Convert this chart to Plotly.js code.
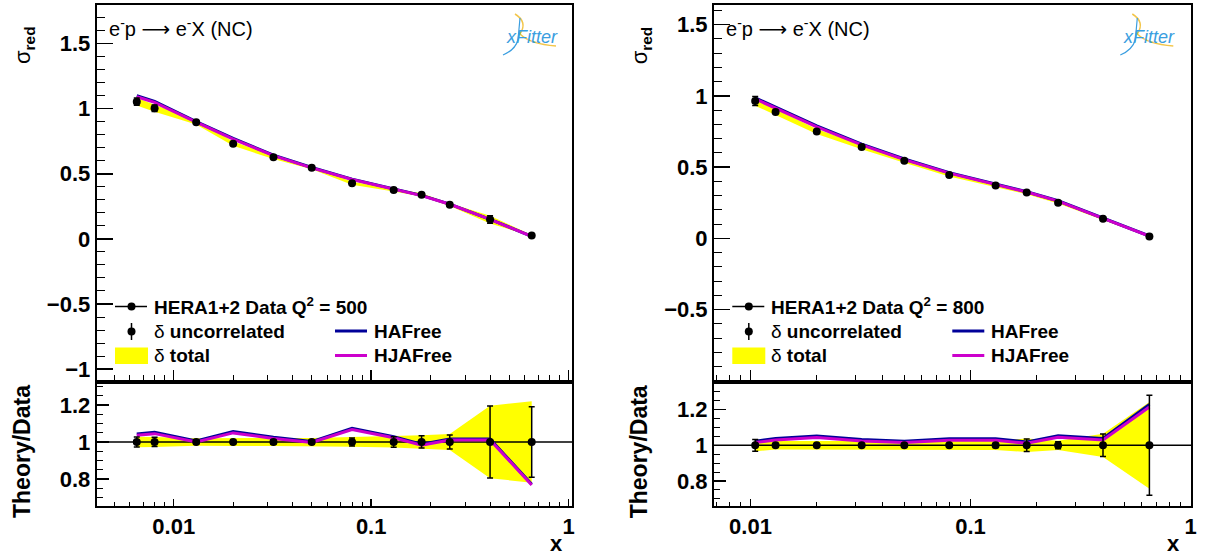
<!DOCTYPE html>
<html><head><meta charset="utf-8">
<script src="https://cdn.plot.ly/plotly-3.0.1.min.js"></script>
<style>html,body{margin:0;padding:0;background:#fff;} #chart{width:1206px;height:558px;}</style>
</head><body><div id="chart"></div>
<script>
// ---------- data: Q2 = 500 (left) ----------
const xL      = [0.0065, 0.008, 0.013, 0.02, 0.032, 0.05, 0.08, 0.13, 0.18, 0.25, 0.40, 0.65];
const dataL   = [1.054, 1.003, 0.896, 0.731, 0.627, 0.547, 0.427, 0.376, 0.338, 0.263, 0.148, 0.025];
const uncL    = [0.027, 0.025, 0.012, 0.012, 0.012, 0.012, 0.022, 0.028, 0.033, 0.038, 0.195, 0.19];   // relative
const totL    = [0.028, 0.027, 0.020, 0.022, 0.022, 0.022, 0.026, 0.030, 0.036, 0.043, 0.196, 0.22];   // relative
const hafL    = [1.0993, 1.0552, 0.9005, 0.7719, 0.6427, 0.5481, 0.4586, 0.3869, 0.3339, 0.2672, 0.1504, 0.0193];
const hjafL   = [1.0919, 1.0481, 0.8960, 0.7668, 0.6389, 0.5454, 0.4556, 0.3846, 0.3319, 0.2659, 0.1496, 0.0192];

// ---------- data: Q2 = 800 (right) ----------
const xR      = [0.0105, 0.013, 0.02, 0.032, 0.05, 0.08, 0.13, 0.18, 0.25, 0.40, 0.65];
const dataR   = [0.965, 0.887, 0.751, 0.641, 0.545, 0.446, 0.371, 0.322, 0.251, 0.139, 0.014];
const uncR    = [0.033, 0.010, 0.010, 0.010, 0.010, 0.010, 0.012, 0.035, 0.020, 0.063, 0.28];
const totR    = [0.034, 0.024, 0.024, 0.024, 0.024, 0.025, 0.026, 0.038, 0.026, 0.065, 0.243];
const hafR    = [0.9872, 0.9207, 0.7901, 0.6615, 0.5575, 0.4621, 0.3844, 0.3281, 0.2643, 0.1443, 0.0172];
const hjafR   = [0.9795, 0.9136, 0.7833, 0.6564, 0.5532, 0.4585, 0.3814, 0.3255, 0.2623, 0.1432, 0.0170];

const q2Labels = ['500', '800'];
const xTickVals = [0.01, 0.1, 1];
const xTickText = ['0.01', '0.1', '1'];
const xMinorVals = [0.004,0.005,0.006,0.007,0.008,0.009,0.02,0.03,0.04,0.05,0.06,0.07,0.08,0.09,0.2,0.3,0.4,0.5,0.6,0.7,0.8,0.9];

// ---------- styling ----------
const W = 1206, H = 558;
const FONT = 'Liberation Sans, Arial, Helvetica, sans-serif';
const YELLOW = '#ffff00', BLUE = '#000099', MAGENTA = '#cc00cc';
const px = v => v / W, py = v => 1 - v / H;

const traces = [];
function panel(xs, data, unc, tot, haf, hjaf, n, xRange) {
  const xa = 'x' + (n === 1 ? '' : n), ya = 'y' + (n === 1 ? '' : n);
  const xb = 'x' + (n + 1), yb = 'y' + (n + 1);
  const rx = xs.slice().reverse();
  traces.push({x: xs.concat(rx), y: data.map((d,i)=>d*(1+tot[i])).concat(data.map((d,i)=>d*(1-tot[i])).reverse()),
    xaxis: xa, yaxis: ya, mode: 'lines', fill: 'toself', fillcolor: YELLOW, line: {width: 0, color: 'rgba(0,0,0,0)'}, hoverinfo: 'skip'});
  traces.push({x: xs, y: haf, xaxis: xa, yaxis: ya, mode: 'lines', line: {color: BLUE, width: 3}});
  traces.push({x: xs, y: hjaf, xaxis: xa, yaxis: ya, mode: 'lines', line: {color: MAGENTA, width: 3}});
  traces.push({x: xs, y: data, xaxis: xa, yaxis: ya, mode: 'markers', marker: {color: 'black', size: 8},
    error_y: {type: 'data', array: data.map((d,i)=>d*unc[i]), color: 'black', thickness: 1.5, width: 3}});
  traces.push({x: xs.concat(rx), y: tot.map(t=>1+t).concat(tot.map(t=>1-t).reverse()),
    xaxis: xb, yaxis: yb, mode: 'lines', fill: 'toself', fillcolor: YELLOW, line: {width: 0, color: 'rgba(0,0,0,0)'}, hoverinfo: 'skip'});
  traces.push({x: [Math.pow(10, xRange[0]), Math.pow(10, xRange[1])], y: [1, 1], xaxis: xb, yaxis: yb, mode: 'lines',
    line: {color: 'black', width: 1.5}, hoverinfo: 'skip'});
  traces.push({x: xs, y: haf.map((t,i)=>t/data[i]), xaxis: xb, yaxis: yb, mode: 'lines', line: {color: BLUE, width: 3}});
  traces.push({x: xs, y: hjaf.map((t,i)=>t/data[i]), xaxis: xb, yaxis: yb, mode: 'lines', line: {color: MAGENTA, width: 3}});
  traces.push({x: xs, y: xs.map(()=>1), xaxis: xb, yaxis: yb, mode: 'markers', marker: {color: 'black', size: 8},
    error_y: {type: 'data', array: unc, color: 'black', thickness: 1.5, width: 3}});
}
const rangeL = [-2.39, 0.017], rangeR = [-2.166, 0.002];
panel(xL, dataL, uncL, totL, hafL, hjafL, 1, rangeL);
panel(xR, dataR, uncR, totR, hafR, hjafR, 3, rangeR);

const tickFont = {family: FONT, size: 22, color: 'black', weight: 'bold'};
function xAxis(dom, range, anchor, showLabels, len) {
  return {domain: dom, type: 'log', range: range, anchor: anchor, showgrid: false, zeroline: false,
    showline: true, mirror: true, linewidth: 2, linecolor: 'black',
    tickmode: 'array', tickvals: xTickVals, ticktext: xTickText, showticklabels: showLabels,
    ticks: 'inside', ticklen: len, tickwidth: 1.5, tickcolor: 'black', tickfont: tickFont, ticklabelstandoff: 0,
    minor: {tickmode: 'array', tickvals: xMinorVals, ticks: 'inside', ticklen: Math.round(len/2), tickwidth: 1, tickcolor: 'black', showgrid: false}};
}
function yAxis(dom, range, anchor, dt, mdt, len) {
  return {domain: dom, range: range, anchor: anchor, showgrid: false, zeroline: false,
    showline: true, mirror: true, linewidth: 2, linecolor: 'black',
    tick0: 0, dtick: dt, ticks: 'inside', ticklen: len, tickwidth: 1.5, tickcolor: 'black', tickfont: tickFont,
    minor: {tick0: 0, dtick: mdt, ticks: 'inside', ticklen: len/2, tickwidth: 1, tickcolor: 'black', showgrid: false}};
}
const dxL = [px(96.7), px(572)], dxR = [px(714), px(1191)];
const dyTop = [py(379.5), py(4.5)], dyBot = [py(506), py(383.5)];

const shapes = [], annotations = [];
function legendAndText(dx, q2) {
  const L = (x0,y0,x1,y1,c,w) => shapes.push({type:'line', xref:'paper', yref:'paper', x0:px(x0+dx), y0:py(y0), x1:px(x1+dx), y1:py(y1), line:{color:c, width:w}});
  const C = (x,y,r) => shapes.push({type:'circle', xref:'paper', yref:'paper', x0:px(x-r+dx), x1:px(x+r+dx), y0:py(y+r), y1:py(y-r), fillcolor:'black', line:{color:'black', width:0}});
  const T = (x,y,t,opt) => annotations.push(Object.assign({xref:'paper', yref:'paper', x:px(x+dx), y:py(y), text:t, showarrow:false,
    xanchor:'left', yanchor:'middle', font:{family:FONT, size:19, color:'black'}}, opt||{}));
  L(115,306.5,147,306.5,'black',1.5); C(131.5,306.5,4);
  T(152,306,'<b>HERA1+2 Data Q<sup>2</sup> = ' + q2 + '</b>');
  L(131.5,323,131.5,340,'black',1.5); C(131.5,331.5,4);
  T(152,331,'δ <b>uncorrelated</b>');
  shapes.push({type:'rect', xref:'paper', yref:'paper', x0:px(115+dx), x1:px(148+dx), y0:py(364), y1:py(347.5), fillcolor:YELLOW, line:{width:0}});
  T(152,355,'δ <b>total</b>');
  L(335,331,367,331,BLUE,3); T(372,331,'<b>HAFree</b>');
  L(335,355.5,367,355.5,MAGENTA,3); T(372,355,'<b>HJAFree</b>');
  // process label
  T(107,28,'e<sup>-</sup>p <span style="font-family:DejaVu Sans">⟶</span> e<sup>-</sup>X (NC)', {font:{family:FONT, size:20, color:'black'}});
  // logo
  T(504,37,'<i>xFitter</i>', {font:{family:FONT, size:18, color:'#3a9ee0'}});
  const P = pts => pts.map(p => (typeof p === 'string') ? p : (px(p[0]+dx) + ',' + py(p[1]))).join(' ');
  shapes.push({type:'path', xref:'paper', yref:'paper', path:P(['M',[515,14],'Q',[528,22],[520,34],'Q',[530,44],[556,46]]), line:{color:'#f3c64a', width:1.5}});
  shapes.push({type:'path', xref:'paper', yref:'paper', path:P(['M',[503,55],'Q',[515,50],[518,40],'L',[520,18]]), line:{color:'#3a9ee0', width:1.2}});
  // axis titles
  annotations.push({xref:'paper', yref:'paper', x:px(24+dx), y:py(45), text:'σ<sub><b>red</b></sub>', textangle:-90, showarrow:false,
    xanchor:'center', yanchor:'middle', font:{family:FONT, size:22, color:'black'}});
  annotations.push({xref:'paper', yref:'paper', x:px(22+dx), y:py(452), text:'<b>Theory/Data</b>', textangle:-90, showarrow:false,
    xanchor:'center', yanchor:'middle', font:{family:FONT, size:23, color:'black'}});
  annotations.push({xref:'paper', yref:'paper', x:px(556+dx), y:py(543), text:'<b>x</b>', showarrow:false,
    xanchor:'center', yanchor:'middle', font:{family:FONT, size:22, color:'black'}});
}
legendAndText(0, q2Labels[0]);
legendAndText(617.3, q2Labels[1]);

const layout = {
  width: W, height: H, margin: {l:0, r:0, t:0, b:0}, showlegend: false,
  paper_bgcolor: 'white', plot_bgcolor: 'white',
  xaxis:  xAxis(dxL, rangeL, 'y', false, 10),
  yaxis:  yAxis(dyTop, [-1.08, 1.80], 'x', 0.5, 0.1, 16),
  xaxis2: xAxis(dxL, rangeL, 'y2', true, 7),
  yaxis2: yAxis(dyBot, [0.654, 1.316], 'x2', 0.2, 0.05, 12),
  xaxis3: xAxis(dxR, rangeR, 'y3', false, 10),
  yaxis3: yAxis(dyTop, [-0.99, 1.642], 'x3', 0.5, 0.1, 16),
  xaxis4: xAxis(dxR, rangeR, 'y4', true, 7),
  yaxis4: yAxis(dyBot, [0.66, 1.346], 'x4', 0.2, 0.05, 12),
  shapes: shapes, annotations: annotations
};
Plotly.newPlot('chart', traces, layout, {staticPlot: true});
</script></body></html>
